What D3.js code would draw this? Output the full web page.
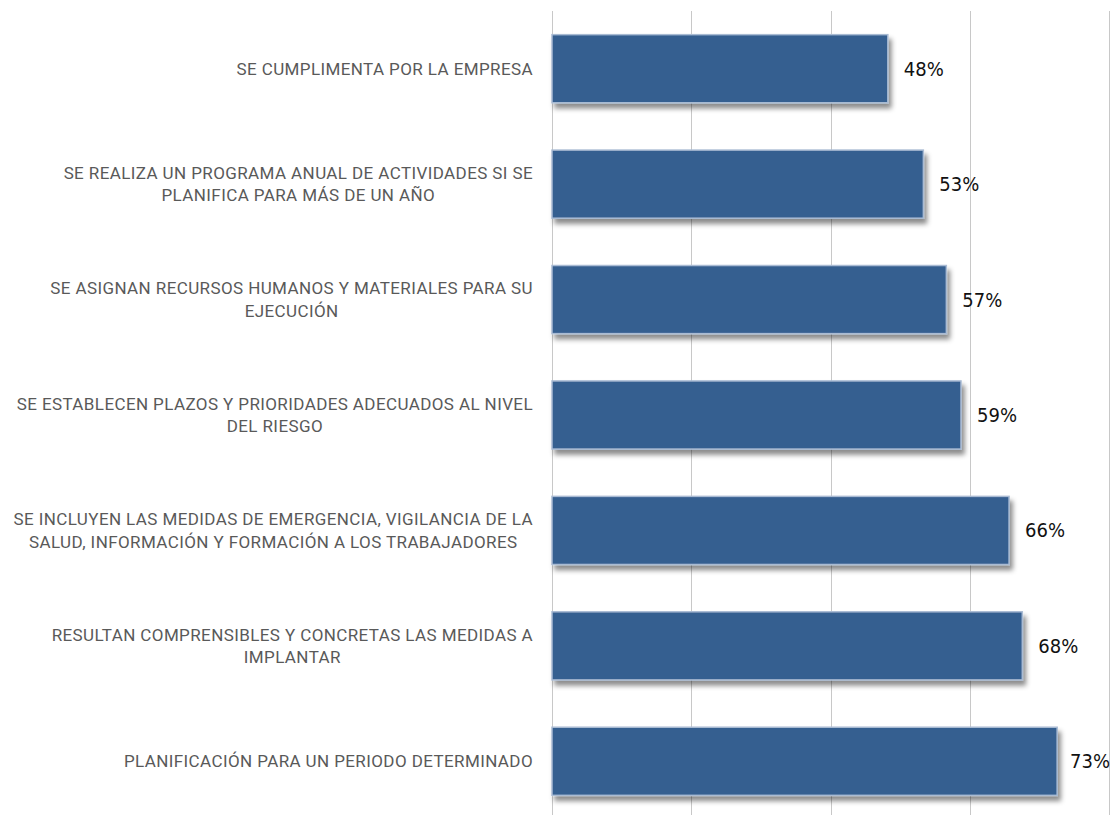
<!DOCTYPE html>
<html>
<head>
<meta charset="utf-8">
<script src="https://cdn.jsdelivr.net/npm/d3@7"></script>
<style>
  body { margin: 0; background: #fff; }
  svg { display: block; }
</style>
</head>
<body>
<svg id="chart" width="1113" height="815"></svg>
<script>
const categories = [
  ["SE CUMPLIMENTA POR LA EMPRESA"],
  ["SE REALIZA UN PROGRAMA ANUAL DE ACTIVIDADES SI SE", "PLANIFICA PARA MÁS DE UN AÑO"],
  ["SE ASIGNAN RECURSOS HUMANOS Y MATERIALES PARA SU", "EJECUCIÓN"],
  ["SE ESTABLECEN PLAZOS Y PRIORIDADES ADECUADOS AL NIVEL", "DEL RIESGO"],
  ["SE INCLUYEN LAS MEDIDAS DE EMERGENCIA, VIGILANCIA DE LA", "SALUD, INFORMACIÓN Y FORMACIÓN A LOS TRABAJADORES"],
  ["RESULTAN COMPRENSIBLES Y CONCRETAS LAS MEDIDAS A", "IMPLANTAR"],
  ["PLANIFICACIÓN PARA UN PERIODO DETERMINADO"]
];
const values = [48.2, 53.3, 56.6, 58.7, 65.6, 67.5, 72.5];
const valueLabels = ["48%", "53%", "57%", "59%", "66%", "68%", "73%"];
const gridTicks = [0, 20, 40, 60, 80];

const svg = d3.select("#chart");
const width = 1113, height = 815;

const x = d3.scaleLinear().domain([0, 80]).range([552, 1109.4]);
const y = d3.scaleBand()
  .domain(d3.range(categories.length))
  .range([11, 819])
  .paddingInner(0.41)
  .paddingOuter(0.205);

// drop shadow for bars
const defs = svg.append("defs");
const f = defs.append("filter").attr("id", "shadow")
  .attr("x", "-5%").attr("y", "-20%").attr("width", "115%").attr("height", "160%");
f.append("feDropShadow")
  .attr("dx", 3).attr("dy", 5)
  .attr("stdDeviation", 2.5)
  .attr("flood-color", "#000")
  .attr("flood-opacity", 0.45);

// vertical gridlines
svg.append("g")
  .selectAll("line")
  .data(gridTicks)
  .enter()
  .append("line")
  .attr("x1", d => Math.round(x(d)) + 0.5)
  .attr("x2", d => Math.round(x(d)) + 0.5)
  .attr("y1", 11)
  .attr("y2", height)
  .attr("stroke", "#c8c8c8")
  .attr("stroke-width", 1);

// bars
svg.append("g")
  .selectAll("rect")
  .data(values)
  .enter()
  .append("rect")
  .attr("x", x(0))
  .attr("y", (d, i) => y(i))
  .attr("width", d => x(d) - x(0))
  .attr("height", y.bandwidth())
  .attr("fill", "#365e90")
  .attr("stroke", "#a9bbd3")
  .attr("stroke-width", 1.5)
  .attr("filter", "url(#shadow)");

// value labels
svg.append("g")
  .selectAll("text")
  .data(values)
  .enter()
  .append("text")
  .attr("x", d => Math.min(x(d) + 16, width - 43))
  .attr("y", (d, i) => y(i) + y.bandwidth() / 2)
  .attr("dy", "0.35em")
  .attr("font-family", "'DejaVu Sans Condensed', 'DejaVu Sans', sans-serif")
  .attr("font-size", 20)
  .attr("fill", "#111")
  .text((d, i) => valueLabels[i]);

// category labels: block right-aligned, lines centred within block
const labelRight = 533;
const lineH = 22.5;
const lab = svg.append("g")
  .attr("font-family", "Roboto, 'DejaVu Sans', sans-serif")
  .attr("font-size", 17)
  .attr("letter-spacing", 0.4)
  .attr("fill", "#595959");

categories.forEach((lines, i) => {
  const cy = y(i) + y.bandwidth() / 2;
  const g = lab.append("g");
  const texts = lines.map((t, j) => g.append("text")
    .attr("y", cy + (j - (lines.length - 1) / 2) * lineH)
    .attr("dy", "0.35em")
    .text(t));
  const widths = texts.map(t => t.node().getComputedTextLength());
  const blockW = d3.max(widths);
  const centre = labelRight - blockW / 2;
  texts.forEach(t => t.attr("x", centre).attr("text-anchor", "middle"));
});
</script>
</body>
</html>
